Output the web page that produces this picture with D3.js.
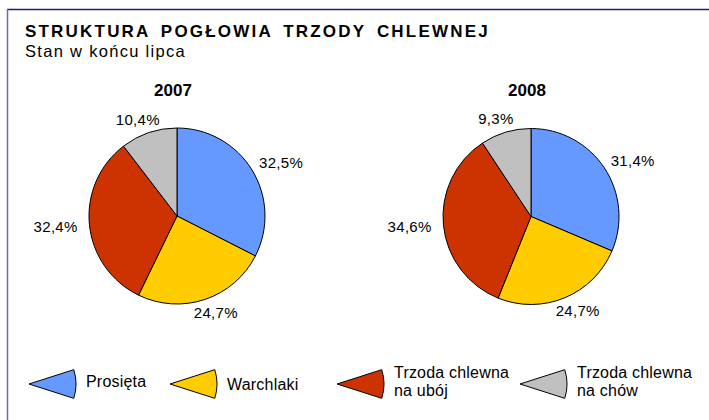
<!DOCTYPE html>
<html>
<head>
<meta charset="utf-8">
<script src="https://cdn.jsdelivr.net/npm/d3@7"></script>
<style>
  body { margin: 0; background: #fff; }
  svg { display: block; font-family: "Liberation Sans", Arial, sans-serif; }
</style>
</head>
<body>
<svg width="709" height="420"></svg>
<script>
// chart data
var categories = ['Prosięta', 'Warchlaki', 'Trzoda chlewna na ubój', 'Trzoda chlewna na chów']
var legendLines = [['Prosięta'], ['Warchlaki'], ['Trzoda chlewna', 'na ubój'], ['Trzoda chlewna', 'na chów']]
var years = ['2007', '2008']
var values2007 = [32.5, 24.7, 32.4, 10.4]
var values2008 = [31.4, 24.7, 34.6, 9.3]
var colors = ['#6699ff', '#ffcc00', '#cc3300', '#c0c0c0']

var svg = d3.select('svg')

// frame (only top and left edges are visible)
svg.append('line').attr('x1', 7).attr('x2', 709).attr('y1', 9.5).attr('y2', 9.5)
    .attr('stroke', '#1c1c78').attr('stroke-width', 1.5)
svg.append('line').attr('x1', 7.5).attr('x2', 7.5).attr('y1', 9).attr('y2', 420)
    .attr('stroke', '#6a6ab8').attr('stroke-width', 1.5)

svg.append('text').attr('x', 25).attr('y', 37)
    .style('font-size', '17px').style('font-weight', 'bold')
    .style('letter-spacing', '2.2px').style('word-spacing', '4px')
    .text('STRUKTURA POGŁOWIA TRZODY CHLEWNEJ')
svg.append('text').attr('x', 25).attr('y', 57)
    .style('font-size', '16.5px').style('letter-spacing', '1.3px')
    .text('Stan w końcu lipca')

var r = 88
var pie = d3.pie().sort(null).value(function(d) { return d })
var arc = d3.arc().innerRadius(0).outerRadius(r)
var fmt = function(v) { return d3.format('.1f')(v).replace('.', ',') + '%' }

var drawPie = function(cx, cy, year, values) {
    var g = svg.append('g').attr('transform', 'translate(' + cx + ',' + cy + ')')

    g.append('text').attr('x', -4).attr('y', 96 - cy)
        .attr('text-anchor', 'middle')
        .style('font-size', '17px').style('font-weight', 'bold')
        .text(year)

    var slices = pie(values)

    g.selectAll('path').data(slices).enter().append('path')
        .attr('d', arc)
        .attr('fill', function(d, i) { return colors[i] })
        .attr('stroke', '#000').attr('stroke-width', 1)

    // labels sit just outside the rim, box pushed outward
    g.selectAll('text.lbl').data(slices).enter().append('text')
        .attr('class', 'lbl')
        .attr('text-anchor', 'middle')
        .attr('dominant-baseline', 'central')
        .style('font-size', '15px').style('letter-spacing', '0.3px')
        .attr('x', function(d) {
            var a = (d.startAngle + d.endAngle) / 2
            return (r + 10) * Math.sin(a) + 24 * Math.sin(a)
        })
        .attr('y', function(d) {
            var a = (d.startAngle + d.endAngle) / 2
            return -(r + 6) * Math.cos(a) - 8 * Math.cos(a)
        })
        .text(function(d) { return fmt(d.data) })
}

drawPie(177, 216, years[0], values2007)
drawPie(531, 216.5, years[1], values2008)

// legend
var legendTips = [29, 170, 337, 520]
var wedge = d3.arc().innerRadius(0).outerRadius(47)
    .startAngle(Math.PI / 2 - 0.31).endAngle(Math.PI / 2 + 0.31)

var items = svg.selectAll('g.leg').data(categories).enter().append('g')
    .attr('class', 'leg')
    .attr('transform', function(d, i) { return 'translate(' + legendTips[i] + ',384)' })

items.append('path').attr('d', wedge)
    .attr('fill', function(d, i) { return colors[i] })
    .attr('stroke', '#000').attr('stroke-width', 1)

items.each(function(d, i) {
    var lines = legendLines[i]
    var t = d3.select(this).append('text')
        .style('font-size', '16px').style('letter-spacing', '0.2px')
    lines.forEach(function(s, k) {
        var y = lines.length == 1 ? 3 + i * 3 : -6 + k * 18
        t.append('tspan').attr('x', 57).attr('y', y).text(s)
    })
})
</script>
</body>
</html>
